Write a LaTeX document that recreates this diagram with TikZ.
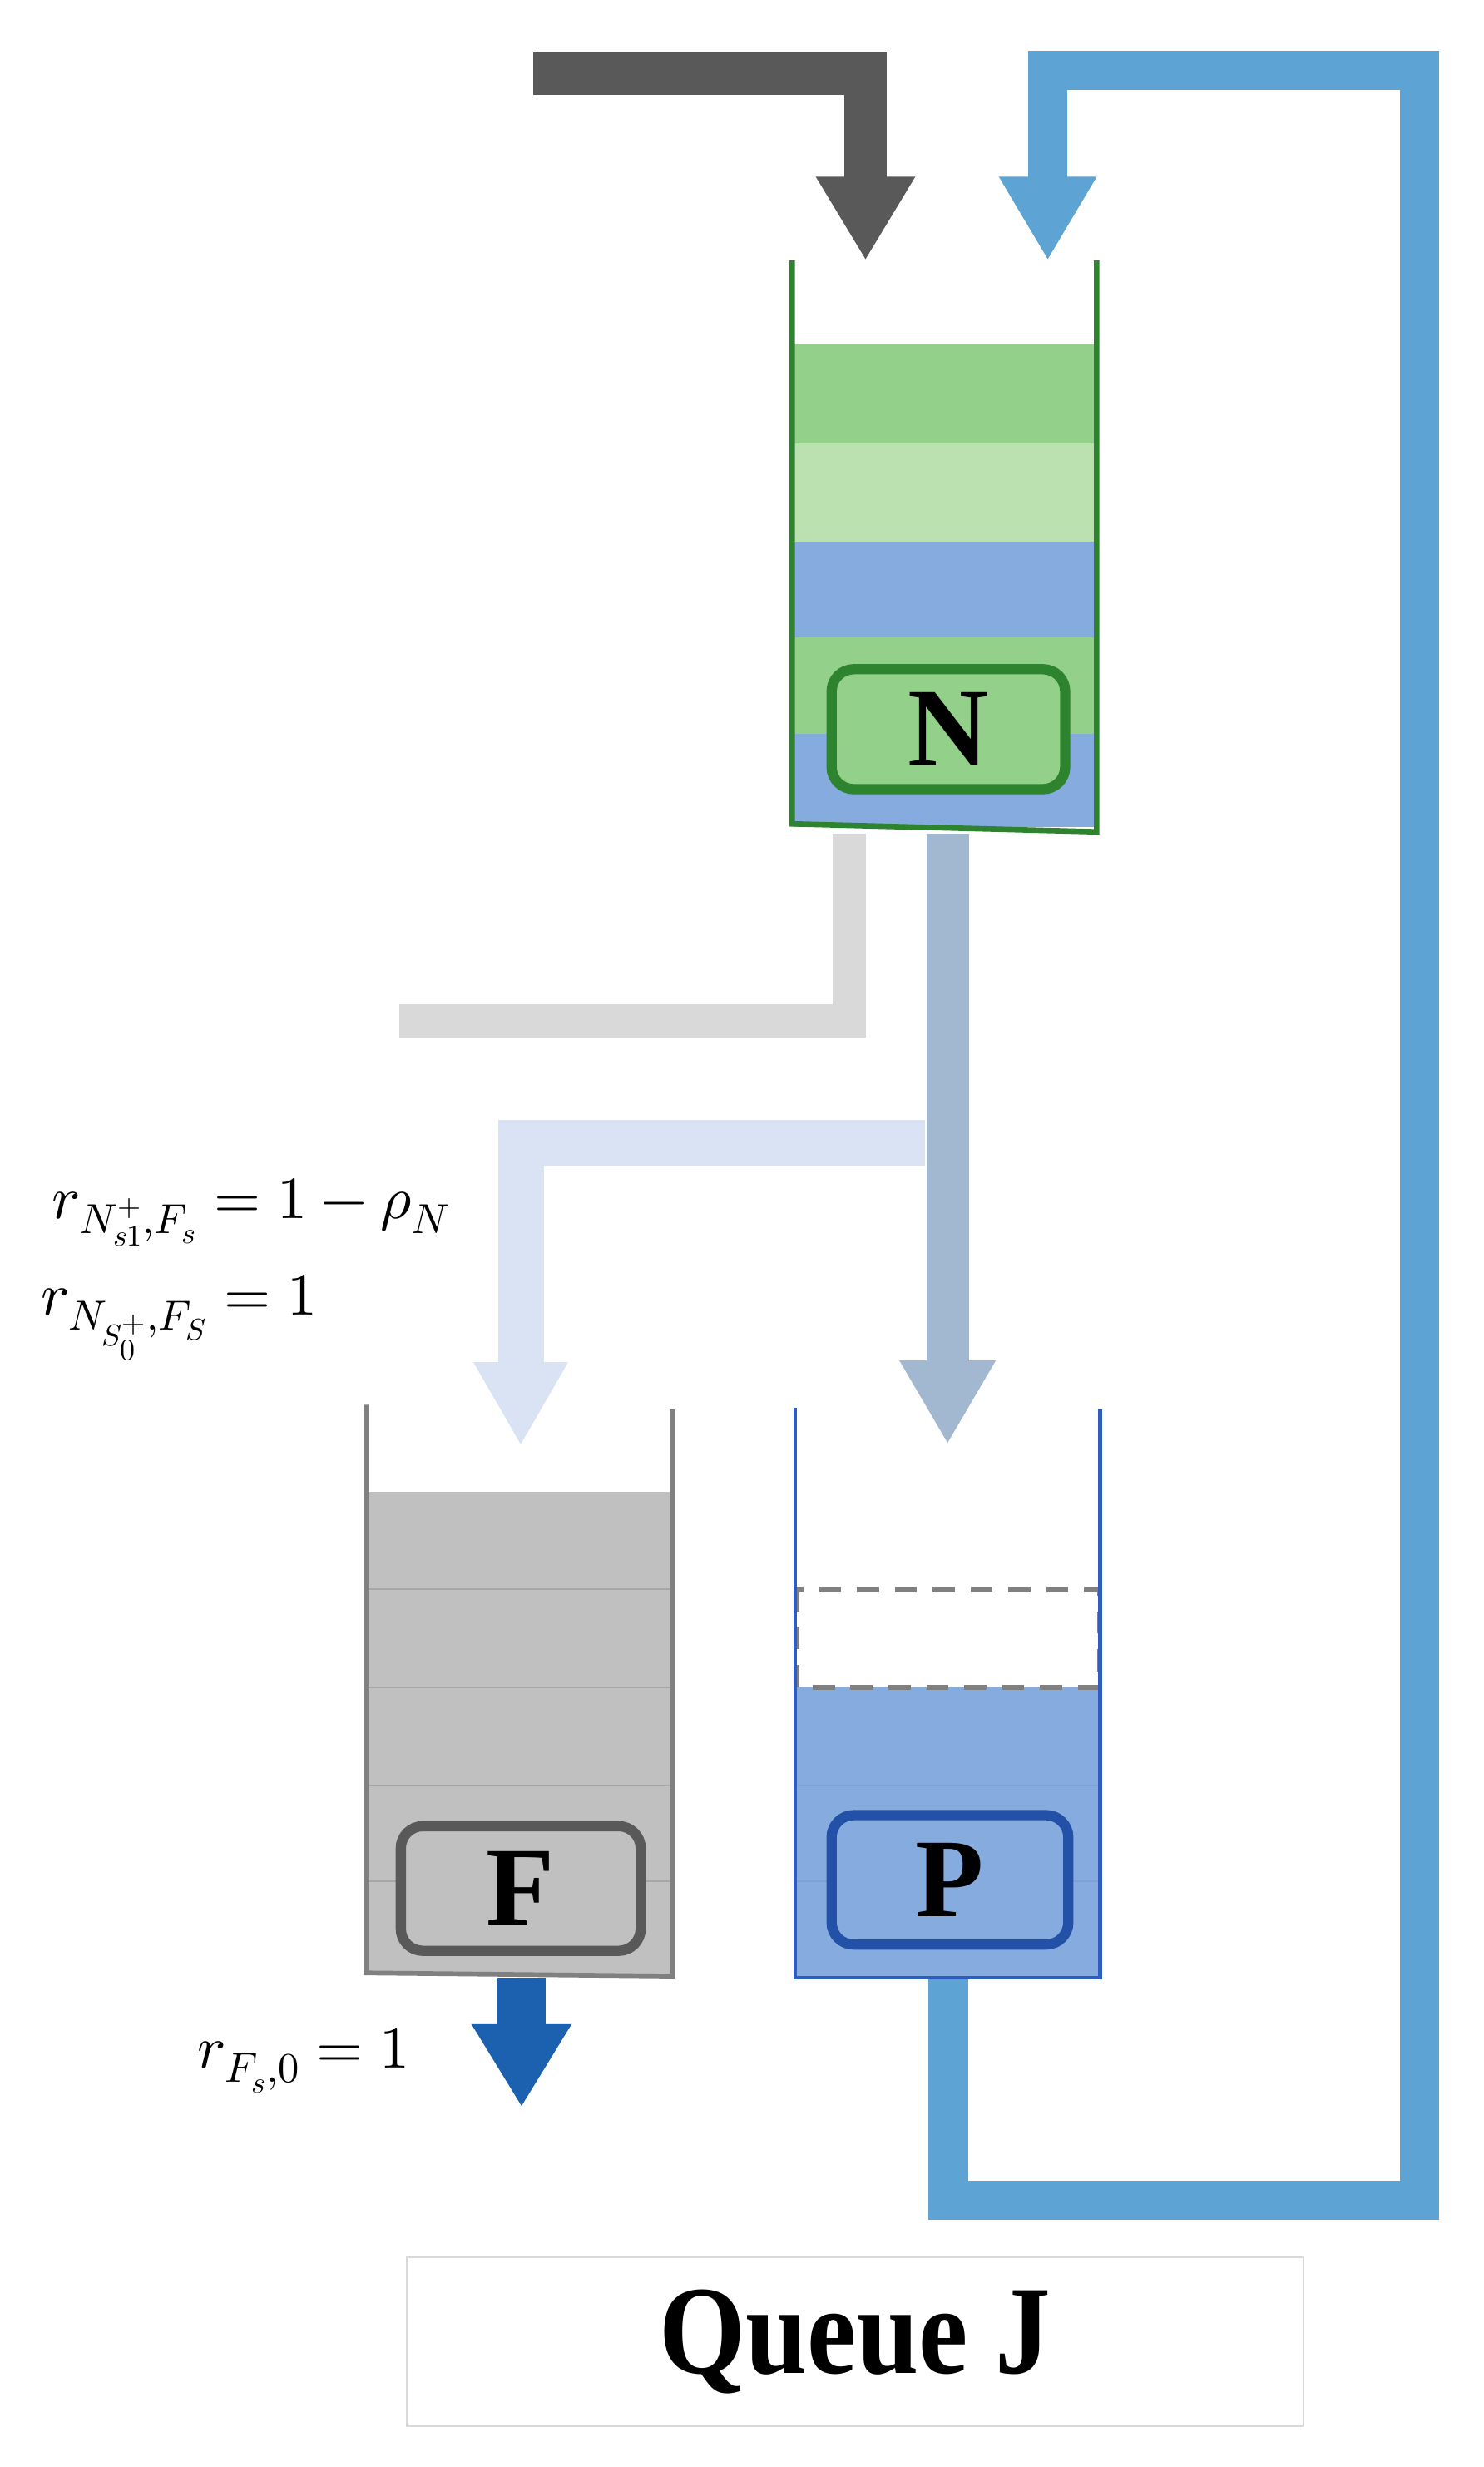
\documentclass[tikz,border=0pt]{standalone}
\usepackage{fontspec}
\usepackage{unicode-math}
\usepackage{tikz}
\usetikzlibrary{arrows.meta, positioning}
\newfontfamily\timesfont{Liberation Serif}

\definecolor{ngreen}{HTML}{93D08A}
\definecolor{nlight}{HTML}{BBE1B0}
\definecolor{nblue}{HTML}{86ACDF}
\definecolor{ndark}{HTML}{2E842E}
\definecolor{fgray}{HTML}{C0C0C0}
\definecolor{fwall}{HTML}{808080}
\definecolor{fdark}{HTML}{595959}
\definecolor{pwall}{HTML}{2F5CBF}
\definecolor{pdark}{HTML}{2451A8}
\definecolor{loopblue}{HTML}{5DA3D3}
\definecolor{lgray}{HTML}{D9D9D9}
\definecolor{bgray}{HTML}{A2B7D0}
\definecolor{lblue}{HTML}{DAE3F3}
\definecolor{dblue}{HTML}{1C61B0}

\tikzset{
	blockarrow/.style={line join=miter, -{Triangle[width=#1, length=53pt]}},
	qbox/.style={rounded corners=14pt, line width=6.5pt, inner sep=0pt,
		font=\timesfont\bfseries\fontsize{71}{80}\selectfont},
	mathlabel/.style={anchor=base west, inner sep=0pt, font=\fontsize{38}{44}\selectfont}
}

\begin{document}
\begin{tikzpicture}[x=1pt, y=-1pt]
				\useasboundingbox (0, 0) rectangle (940, 1563);
				
				% arrivals
				\draw[blockarrow=59pt, fdark, line width=27pt] (338, 46.5) -- (548.5, 46.5) -- (548.5, 165);
				\draw[blockarrow=58pt, loopblue, line width=25pt] (601, 1253) -- (601, 1394) -- (899.5, 1394) -- (899.5, 44.5) -- (664, 44.5) -- (664, 165);
				
				% queue N
				\fill[ngreen] (503, 218) rectangle (694, 281);
				\fill[nlight] (503, 281) rectangle (694, 343);
				\fill[nblue] (503, 343) rectangle (694, 404);
				\fill[ngreen] (503, 404) rectangle (694, 465);
				\fill[nblue] (503, 465) rectangle (694, 524);
				\draw[ndark, line width=3.5pt] (502, 165) -- (502, 522) -- (695, 527) -- (695, 165);
				\node[qbox, draw=ndark, fill=ngreen, minimum width=148pt, minimum height=76pt] (N) at (601, 462) {N};
				
				% routing from N
				\draw[lgray, line width=21pt, line join=miter] (538, 528) -- (538, 647) -- (253, 647);
				\draw[blockarrow=57pt, bgray, line width=27pt] (600.5, 528) -- (600.5, 915);
				\draw[blockarrow=56pt, lblue, line width=29pt] (586, 724) -- (330, 724) -- (330, 916);
				
				\node[mathlabel] (rNF) at (33, 772) {$r_{N^+_{s1},F_s} = 1 - \rho_N$};
				\node[mathlabel] (rNS) at (26, 833) {$r_{N_{S_0^+},F_S} = 1$};
				
				% queue F
				\fill[fgray] (233, 945) rectangle (425, 1251);
				\foreach \y in {1007, 1069, 1131, 1192}
					\draw[fwall!70, line width=1pt] (233, \y) -- (425, \y);
				\draw[fwall, line width=3pt] (232, 890) -- (232, 1250) -- (426, 1252) -- (426, 893);
				\node[qbox, draw=fdark, fill=fgray, minimum width=152pt, minimum height=79pt] (F) at (330, 1196.5) {F};
				
				\draw[blockarrow=60pt, dblue, line width=31pt] (330.5, 1253) -- (330.5, 1335);
				\node[mathlabel] (rF0) at (125, 1310) {$r_{F_s,0} = 1$};
				
				% queue P
				\fill[nblue] (505, 1069) rectangle (696, 1252);
				\foreach \y in {1131, 1192}
					\draw[pwall!60, line width=1pt] (505, \y) -- (696, \y);
				\draw[fwall, line width=3pt, dash pattern=on 14pt off 10pt] (505, 1007) rectangle (697, 1069);
				\draw[pwall, line width=2.5pt] (504, 892) -- (504, 1253) -- (697, 1253) -- (697, 893);
				\node[qbox, draw=pdark, fill=nblue, minimum width=150pt, minimum height=82pt] (P) at (602, 1191) {P};
				
				% caption
				\node[draw=lgray, line width=1.2pt, minimum width=568pt, minimum height=107pt,
					font=\timesfont\bfseries\fontsize{80}{90}\selectfont] (queueJ) at (542, 1483.5) {\scalebox{0.88}[1]{Queue J}};
			\end{tikzpicture}
\end{document}
